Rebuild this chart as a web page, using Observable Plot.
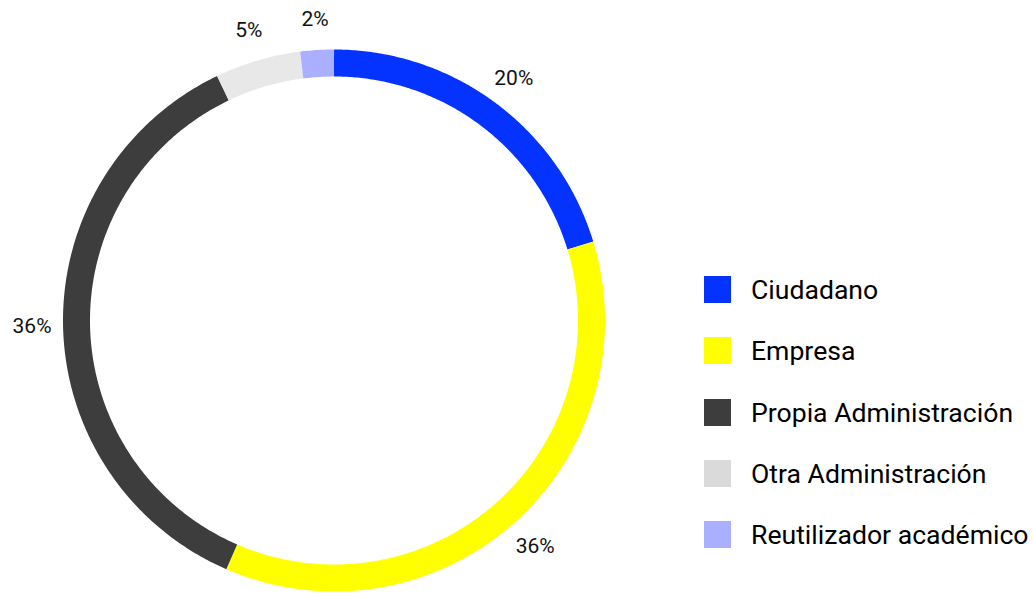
<!DOCTYPE html>
<html><head><meta charset="utf-8">
<script src="https://cdn.jsdelivr.net/npm/d3@7"></script>
<script src="https://cdn.jsdelivr.net/npm/@observablehq/plot@0.6"></script>
<style>
body{margin:0;background:#fff;font-family:Roboto,sans-serif;}
#wrap{position:relative;width:1033px;height:593px;overflow:hidden;}
#chart{position:absolute;left:0;top:0;}
#legend{position:absolute;left:704px;top:276px;}
.row{display:flex;align-items:center;height:27px;margin-bottom:34.3px;}
.sw{width:27px;height:27px;margin-right:20px;flex:none;}
.lab{font-size:26.6px;color:#000;white-space:nowrap;line-height:27px;}
</style></head><body>
<div id="wrap"><div id="chart"></div><div id="legend"></div></div>
<script>
// ---- data ----
const categories = ["Ciudadano", "Empresa", "Propia Administración", "Otra Administración", "Reutilizador académico"];
const shares = [20.3, 36.2, 36.4, 5.1, 2.0];
const shareLabels = ["20%", "36%", "36%", "5%", "2%"];
const ringColors = ["#0433ff", "#ffff00", "#3d3d3d", "#e8e8e8", "#aab0ff"];
const legendColors = ["#0433ff", "#ffff00", "#3d3d3d", "#dadada", "#aab0ff"];

// ---- layout (pixels) ----
const W = 1033, H = 593, cx = 333.5, cy = 320, rMid = 257.5, ringW = 27, rLabel = 302;

const total = d3.sum(shares);
let acc = 0;
const arcs = categories.map((c, i) => {
  const a0 = acc / total * 2 * Math.PI;
  acc += shares[i];
  const a1 = acc / total * 2 * Math.PI;
  return {cat: c, a0, a1, label: shareLabels[i]};
});
const ringPts = [];
for (const s of arcs) {
  const n = Math.max(2, Math.ceil((s.a1 - s.a0) / (Math.PI / 360)));
  for (let k = 0; k <= n; k++) {
    const a = s.a0 + (s.a1 - s.a0) * k / n;
    ringPts.push({cat: s.cat, x: Math.sin(a), y: Math.cos(a)});
  }
}
const lab = arcs.map(s => {
  const a = (s.a0 + s.a1) / 2;
  const k = rLabel / rMid;
  return {text: s.label, x: Math.sin(a) * k, y: Math.cos(a) * k};
});

const chart = Plot.plot({
  width: W, height: H, margin: 0,
  style: {fontFamily: "Roboto, sans-serif", background: "#fff"},
  x: {domain: [-cx / rMid, (W - cx) / rMid], axis: null},
  y: {domain: [-(H - cy) / rMid, cy / rMid], axis: null},
  color: {domain: categories, range: ringColors},
  marks: [
    Plot.line(ringPts, {x: "x", y: "y", z: "cat", stroke: "cat", strokeWidth: ringW, strokeLinecap: "butt", strokeLinejoin: "round"}),
    Plot.text(lab, {x: "x", y: "y", text: "text", fontSize: 21, fill: "#111"})
  ]
});
document.getElementById("chart").appendChild(chart);

const leg = d3.select("#legend");
categories.forEach((c, i) => {
  const row = leg.append("div").attr("class", "row");
  row.append("div").attr("class", "sw").style("background", legendColors[i]);
  row.append("div").attr("class", "lab").text(c);
});
</script>
</body></html>
